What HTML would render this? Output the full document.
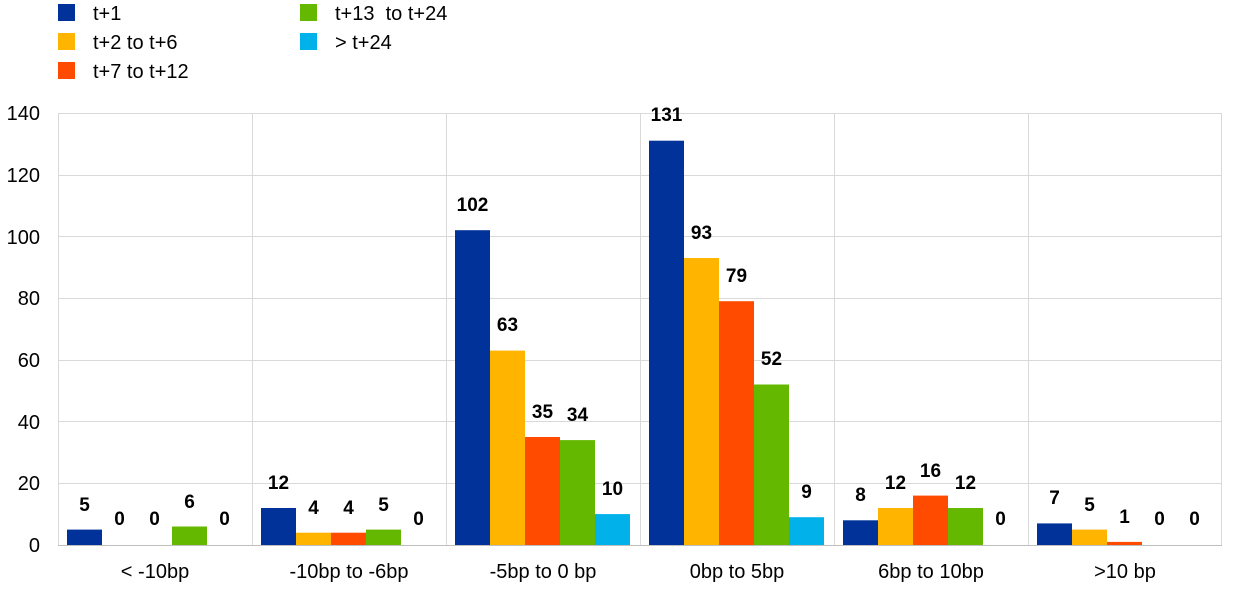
<!DOCTYPE html>
<html><head><meta charset="utf-8"><style>
body{margin:0;background:#fff;}
svg{display:block;font-family:"Liberation Sans",Arial,sans-serif;}
.l{font-size:20px;fill:#000;}
.v{font-size:19px;font-weight:bold;text-anchor:middle;fill:#000;}
.t{font-size:20px;text-anchor:end;}
.c{font-size:20px;text-anchor:middle;}
</style></head><body>
<svg width="1240" height="590" viewBox="0 0 1240 590">
<rect x="58" y="4" width="17" height="17" fill="#003299"/><text class="l" x="93" y="20">t+1</text>
<rect x="58" y="33" width="17" height="17" fill="#FFB400"/><text class="l" x="93" y="49">t+2 to t+6</text>
<rect x="58" y="62" width="17" height="17" fill="#FF4B00"/><text class="l" x="93" y="78">t+7 to t+12</text>
<rect x="300" y="4" width="17" height="17" fill="#65B800"/><text class="l" x="335" y="20" xml:space="preserve">t+13  to t+24</text>
<rect x="300" y="33" width="17" height="17" fill="#00B1EA"/><text class="l" x="335" y="49">&gt; t+24</text>
<g stroke="#d9d9d9" stroke-width="1">
<line x1="58" y1="113.5" x2="1222" y2="113.5"/>
<line x1="58" y1="175.5" x2="1222" y2="175.5"/>
<line x1="58" y1="236.5" x2="1222" y2="236.5"/>
<line x1="58" y1="298.5" x2="1222" y2="298.5"/>
<line x1="58" y1="360.5" x2="1222" y2="360.5"/>
<line x1="58" y1="421.5" x2="1222" y2="421.5"/>
<line x1="58" y1="483.5" x2="1222" y2="483.5"/>
<line x1="58.5" y1="113" x2="58.5" y2="545"/>
<line x1="252.5" y1="113" x2="252.5" y2="545"/>
<line x1="446.5" y1="113" x2="446.5" y2="545"/>
<line x1="640.5" y1="113" x2="640.5" y2="545"/>
<line x1="834.5" y1="113" x2="834.5" y2="545"/>
<line x1="1028.5" y1="113" x2="1028.5" y2="545"/>
<line x1="1221.5" y1="113" x2="1221.5" y2="545"/>
</g>
<line x1="58" y1="545.5" x2="1222" y2="545.5" stroke="#bfbfbf"/>
<g>
<text class="t" x="40" y="552">0</text>
<text class="t" x="40" y="490">20</text>
<text class="t" x="40" y="429">40</text>
<text class="t" x="40" y="367">60</text>
<text class="t" x="40" y="305">80</text>
<text class="t" x="40" y="244">100</text>
<text class="t" x="40" y="182">120</text>
<text class="t" x="40" y="120">140</text>
</g>
<g>
<text class="c" x="155" y="578">&lt; -10bp</text>
<text class="c" x="349" y="578">-10bp to -6bp</text>
<text class="c" x="543" y="578">-5bp to 0 bp</text>
<text class="c" x="737" y="578">0bp to 5bp</text>
<text class="c" x="931" y="578">6bp to 10bp</text>
<text class="c" x="1125" y="578">&gt;10 bp</text>
</g>
<rect x="67" y="529.6" width="35" height="15.4" fill="#003299"/>
<rect x="172" y="526.5" width="35" height="18.5" fill="#65B800"/>
<text class="v" x="84.5" y="511">5</text><text class="v" x="119.5" y="525">0</text><text class="v" x="154.5" y="525">0</text><text class="v" x="189.5" y="508">6</text><text class="v" x="224.5" y="525">0</text>
<rect x="261" y="508" width="35" height="37" fill="#003299"/>
<rect x="296" y="532.7" width="35" height="12.3" fill="#FFB400"/>
<rect x="331" y="532.7" width="35" height="12.3" fill="#FF4B00"/>
<rect x="366" y="529.6" width="35" height="15.4" fill="#65B800"/>
<text class="v" x="278.5" y="489">12</text><text class="v" x="313.5" y="514">4</text><text class="v" x="348.5" y="514">4</text><text class="v" x="383.5" y="511">5</text><text class="v" x="418.5" y="525">0</text>
<rect x="455" y="230.2" width="35" height="314.8" fill="#003299"/>
<rect x="490" y="350.6" width="35" height="194.4" fill="#FFB400"/>
<rect x="525" y="437" width="35" height="108" fill="#FF4B00"/>
<rect x="560" y="440.1" width="35" height="104.9" fill="#65B800"/>
<rect x="595" y="514.1" width="35" height="30.9" fill="#00B1EA"/>
<text class="v" x="472.5" y="211">102</text><text class="v" x="507.5" y="331">63</text><text class="v" x="542.5" y="418">35</text><text class="v" x="577.5" y="421">34</text><text class="v" x="612.5" y="495">10</text>
<rect x="649" y="140.7" width="35" height="404.3" fill="#003299"/>
<rect x="684" y="258" width="35" height="287" fill="#FFB400"/>
<rect x="719" y="301.2" width="35" height="243.8" fill="#FF4B00"/>
<rect x="754" y="384.5" width="35" height="160.5" fill="#65B800"/>
<rect x="789" y="517.2" width="35" height="27.8" fill="#00B1EA"/>
<text class="v" x="666.5" y="121">131</text><text class="v" x="701.5" y="239">93</text><text class="v" x="736.5" y="282">79</text><text class="v" x="771.5" y="365">52</text><text class="v" x="806.5" y="498">9</text>
<rect x="843" y="520.3" width="35" height="24.7" fill="#003299"/>
<rect x="878" y="508" width="35" height="37" fill="#FFB400"/>
<rect x="913" y="495.6" width="35" height="49.4" fill="#FF4B00"/>
<rect x="948" y="508" width="35" height="37" fill="#65B800"/>
<text class="v" x="860.5" y="501">8</text><text class="v" x="895.5" y="489">12</text><text class="v" x="930.5" y="477">16</text><text class="v" x="965.5" y="489">12</text><text class="v" x="1000.5" y="525">0</text>
<rect x="1037" y="523.4" width="35" height="21.6" fill="#003299"/>
<rect x="1072" y="529.6" width="35" height="15.4" fill="#FFB400"/>
<rect x="1107" y="541.9" width="35" height="3.1" fill="#FF4B00"/>
<text class="v" x="1054.5" y="504">7</text><text class="v" x="1089.5" y="511">5</text><text class="v" x="1124.5" y="523">1</text><text class="v" x="1159.5" y="525">0</text><text class="v" x="1194.5" y="525">0</text>
</svg>
</body></html>
